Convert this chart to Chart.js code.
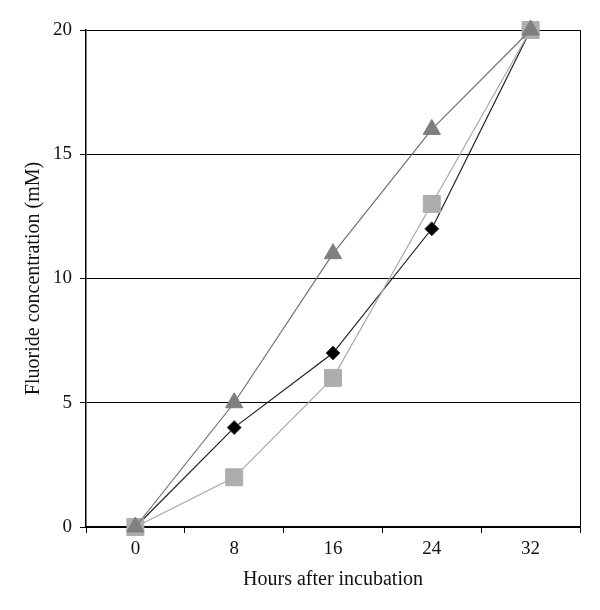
<!DOCTYPE html>
<html>
<head>
<meta charset="utf-8">
<script src="https://cdn.jsdelivr.net/npm/chart.js@4.4.0/dist/chart.umd.min.js"></script>
<style>
  html, body { margin: 0; padding: 0; background: #fff; }
  #wrap { width: 600px; height: 610px; }
</style>
</head>
<body>
<div id="wrap"><canvas id="c" width="600" height="610"></canvas></div>
<script>
const categories = ['0', '8', '16', '24', '32'];
const triangleSeries = [0, 5, 11, 16, 20];
const squareSeries = [0, 2, 6, 13, 20];
const diamondSeries = [0, 4, 7, 12, 20];
const yTicks = [0, 5, 10, 15, 20];

const FONT = "'Liberation Serif', 'DejaVu Serif', serif";

const rightBorder = {
  id: 'rightBorder',
  afterDraw(chart) {
    const a = chart.chartArea, ctx = chart.ctx;
    ctx.save();
    ctx.strokeStyle = '#000';
    ctx.lineWidth = 1;
    ctx.beginPath();
    ctx.moveTo(a.right + 0.5, a.top);
    ctx.lineTo(a.right + 0.5, a.bottom + 6);
    ctx.stroke();
    ctx.restore();
  }
};

new Chart(document.getElementById('c'), {
  type: 'line',
  data: {
    labels: categories,
    datasets: [
      {
        data: triangleSeries,
        clip: false,
        borderColor: '#707070',
        borderWidth: 1.2,
        backgroundColor: '#7f7f7f',
        pointBackgroundColor: '#7f7f7f',
        pointBorderColor: '#7f7f7f',
        pointStyle: 'triangle',
        pointRadius: 10,
        pointBorderWidth: 1,
        tension: 0
      },
      {
        data: squareSeries,
        clip: false,
        borderColor: '#a8a8a8',
        borderWidth: 1.2,
        backgroundColor: '#adadad',
        pointBackgroundColor: '#adadad',
        pointBorderColor: '#adadad',
        pointStyle: 'rect',
        pointRadius: 12,
        pointBorderWidth: 1,
        tension: 0
      },
      {
        data: diamondSeries,
        clip: false,
        borderColor: '#202020',
        borderWidth: 1.2,
        backgroundColor: '#000',
        pointBackgroundColor: '#000',
        pointBorderColor: '#444',
        pointStyle: 'rectRot',
        pointRadius: 7,
        pointBorderWidth: 1,
        tension: 0
      }
    ]
  },
  options: {
    responsive: false,
    animation: false,
    layout: { padding: { left: 0, right: 20, top: 30, bottom: 0 } },
    plugins: { legend: { display: false }, tooltip: { enabled: false } },
    scales: {
      x: {
        type: 'category',
        offset: true,
        grid: {
          offset: true,
          drawOnChartArea: false,
          color: '#000',
          tickLength: 6,
          lineWidth: 1
        },
        border: { color: '#000', width: 1.5 },
        ticks: {
          color: '#111',
          font: { family: FONT, size: 19 },
          padding: 5
        },
        title: {
          display: true,
          text: 'Hours after incubation',
          color: '#111',
          font: { family: FONT, size: 20 },
          padding: { top: 0, bottom: 18 }
        },
        afterFit(scale) { scale.height = 83; }
      },
      y: {
        min: 0,
        max: 20,
        afterBuildTicks(scale) { scale.ticks = yTicks.map(v => ({ value: v })); },
        grid: {
          color: '#000',
          lineWidth: 1,
          tickLength: 6
        },
        border: { color: '#000', width: 1.5 },
        ticks: {
          color: '#111',
          font: { family: FONT, size: 19 },
          padding: 8
        },
        title: {
          display: true,
          text: 'Fluoride concentration (mM)',
          color: '#111',
          font: { family: FONT, size: 20 },
          padding: { top: 22, bottom: 0 }
        },
        afterFit(scale) { scale.width = 86; }
      }
    }
  },
  plugins: [rightBorder]
});
</script>
</body>
</html>
